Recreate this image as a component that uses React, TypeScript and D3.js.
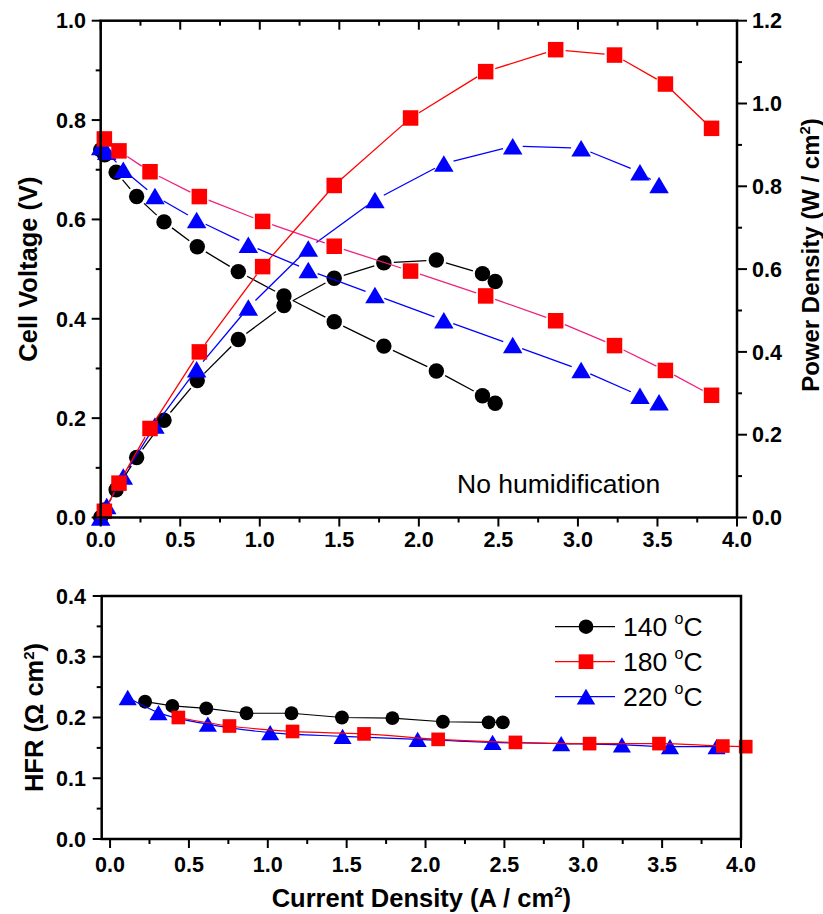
import React from "react";
import * as d3 from "d3";

// ---------- data ----------
const x140 = [0, 0.025, 0.097, 0.226, 0.398, 0.607, 0.865, 1.152, 1.468, 1.78, 2.11, 2.40, 2.48];
const v140 = [0.74, 0.73, 0.695, 0.646, 0.595, 0.545, 0.495, 0.446, 0.394, 0.345, 0.295, 0.245, 0.23];
const p140 = [0, 0.018, 0.067, 0.145, 0.235, 0.331, 0.43, 0.512, 0.578, 0.615, 0.622, 0.589, 0.57];

const x180 = [0.023, 0.115, 0.31, 0.62, 1.018, 1.468, 1.948, 2.42, 2.86, 3.23, 3.55, 3.84];
const v180 = [0.762, 0.738, 0.696, 0.646, 0.596, 0.546, 0.496, 0.446, 0.396, 0.346, 0.296, 0.246];
const p180 = [0.015, 0.083, 0.215, 0.40, 0.606, 0.802, 0.965, 1.077, 1.13, 1.117, 1.047, 0.94];

const x220 = [0, 0.038, 0.142, 0.341, 0.603, 0.928, 1.305, 1.724, 2.157, 2.59, 3.02, 3.39, 3.51];
const v220 = [0.746, 0.736, 0.70, 0.647, 0.599, 0.549, 0.498, 0.448, 0.397, 0.347, 0.297, 0.245, 0.232];
const p220 = [0, 0.028, 0.099, 0.222, 0.358, 0.507, 0.650, 0.767, 0.855, 0.897, 0.892, 0.834, 0.803];

const hx140 = [0.222, 0.395, 0.61, 0.865, 1.15, 1.47, 1.79, 2.11, 2.40, 2.49];
const h140 = [0.226, 0.219, 0.215, 0.207, 0.207, 0.200, 0.199, 0.193, 0.192, 0.192];
const hx180 = [0.433, 0.757, 1.157, 1.61, 2.08, 2.57, 3.04, 3.48, 3.885, 4.03];
const h180 = [0.200, 0.186, 0.177, 0.173, 0.164, 0.159, 0.157, 0.157, 0.153, 0.152];
const hx220 = [0.112, 0.307, 0.62, 1.015, 1.474, 1.95, 2.425, 2.86, 3.245, 3.55, 3.845];
const h220 = [0.233, 0.208, 0.189, 0.175, 0.169, 0.164, 0.159, 0.157, 0.155, 0.152, 0.152];

const xTicks = [0, 0.5, 1.0, 1.5, 2.0, 2.5, 3.0, 3.5, 4.0];
const vTicks = [0, 0.2, 0.4, 0.6, 0.8, 1.0];
const pTicks = [0, 0.2, 0.4, 0.6, 0.8, 1.0, 1.2];
const hTicks = [0, 0.1, 0.2, 0.3, 0.4];
const legendLabels = ["140 ", "180 ", "220 "];

// ---------- layout ----------
const W = 823, H = 914;
const FONT = "'Liberation Sans', Arial, sans-serif";

const xTop = d3.scaleLinear().domain([0, 4]).range([100.7, 737]);
const yV = d3.scaleLinear().domain([0, 1]).range([517.5, 20.7]);
const yP = d3.scaleLinear().domain([0, 1.2]).range([517.5, 20.7]);
const xBot = d3.scaleLinear().domain([-0.053, 4.0]).range([101.7, 741]);
const yH = d3.scaleLinear().domain([0, 0.4]).range([839, 596]);

const fmt = d3.format(".1f");

type Shape = "circle" | "square" | "triangle";

function Marker({ shape, cx, cy, color, s = 1 }: { shape: Shape; cx: number; cy: number; color: string; s?: number }) {
  if (shape === "circle") return <circle cx={cx} cy={cy} r={7.7 * s} fill={color} />;
  if (shape === "square") {
    const a = 15.5 * s;
    return <rect x={cx - a / 2} y={cy - a / 2} width={a} height={a} fill={color} />;
  }
  const w = 19.5 * s, h = 16.5 * s;
  const pts = `${cx},${cy - h / 2} ${cx + w / 2},${cy + h / 2} ${cx - w / 2},${cy + h / 2}`;
  return <polygon points={pts} fill={color} />;
}

function GapLine({ xs, ys, sx, sy, color, gap }: { xs: number[]; ys: number[]; sx: any; sy: any; color: string; gap: number }) {
  const segs: JSX.Element[] = [];
  for (let i = 0; i < xs.length - 1; i++) {
    const x1 = sx(xs[i]), y1 = sy(ys[i]), x2 = sx(xs[i + 1]), y2 = sy(ys[i + 1]);
    const dx = x2 - x1, dy = y2 - y1;
    const L = Math.hypot(dx, dy);
    if (L <= 2 * gap + 1) continue;
    const ux = dx / L, uy = dy / L;
    segs.push(
      <line key={i} x1={x1 + ux * gap} y1={y1 + uy * gap} x2={x2 - ux * gap} y2={y2 - uy * gap} stroke={color} strokeWidth={1.3} />
    );
  }
  return <g>{segs}</g>;
}

function Series({ xs, ys, sx, sy, color, lineColor, shape, gap = 10 }: any) {
  return (
    <g>
      <GapLine xs={xs} ys={ys} sx={sx} sy={sy} color={lineColor || color} gap={gap} />
      {xs.map((x: number, i: number) => (
        <Marker key={i} shape={shape} cx={sx(x)} cy={sy(ys[i])} color={color} />
      ))}
    </g>
  );
}

function SmoothSeries({ xs, ys, color, shape, curve, s }: any) {
  const pts = xs.map((x: number, i: number) => [xBot(x), yH(ys[i])] as [number, number]);
  const path = d3.line().curve(curve)(pts) || "";
  return (
    <g>
      <path d={path} fill="none" stroke={color} strokeWidth={1.2} />
      {pts.map((p: [number, number], i: number) => (
        <Marker key={i} shape={shape} cx={p[0]} cy={p[1]} color={color} s={s} />
      ))}
    </g>
  );
}

function minorBetween(ticks: number[]) {
  const out: number[] = [];
  for (let i = 0; i < ticks.length - 1; i++) out.push((ticks[i] + ticks[i + 1]) / 2);
  return out;
}

export default function App() {
  const axisW = 2.5;
  const tickFont = { fontFamily: FONT, fontWeight: 700, fontSize: 21.5, fill: "#000" } as any;
  const titleFont = { fontFamily: FONT, fontWeight: 700, fill: "#000" } as any;

  const [tl, tr] = xTop.range();
  const [tb, tt] = yV.range();
  const [bl, br] = xBot.range();
  const [bb, bt] = yH.range();

  return (
    <svg width={W} height={H} style={{ position: "absolute", left: 0, top: 0, background: "#fff" }}>
      <rect x={0} y={0} width={W} height={H} fill="#fff" />

      {/* ===== TOP PLOT ===== */}
      <Series xs={x140} ys={v140} sx={xTop} sy={yV} color="#000" shape="circle" />
      <Series xs={x140} ys={p140} sx={xTop} sy={yP} color="#000" shape="circle" />
      <Series xs={x220} ys={v220} sx={xTop} sy={yV} color="#0000ff" shape="triangle" />
      <Series xs={x220} ys={p220} sx={xTop} sy={yP} color="#0000ff" shape="triangle" />
      <Series xs={x180} ys={v180} sx={xTop} sy={yV} color="#ff0000" lineColor="#f0207f" shape="square" />
      <Series xs={x180} ys={p180} sx={xTop} sy={yP} color="#ff0000" shape="square" />

      <rect x={tl} y={tt} width={tr - tl} height={tb - tt} fill="none" stroke="#000" strokeWidth={axisW} />

      {xTicks.map((t) => (
        <g key={"xt" + t}>
          <line x1={xTop(t)} x2={xTop(t)} y1={tb} y2={tb + 9} stroke="#000" strokeWidth={2} />
          <line x1={xTop(t)} x2={xTop(t)} y1={tt} y2={tt + 9} stroke="#000" strokeWidth={2} />
          <text x={xTop(t)} y={547} textAnchor="middle" style={tickFont}>{fmt(t)}</text>
        </g>
      ))}
      {minorBetween(xTicks).map((t) => (
        <g key={"xm" + t}>
          <line x1={xTop(t)} x2={xTop(t)} y1={tb} y2={tb + 5} stroke="#000" strokeWidth={2} />
          <line x1={xTop(t)} x2={xTop(t)} y1={tt} y2={tt + 5} stroke="#000" strokeWidth={2} />
        </g>
      ))}
      {vTicks.map((t) => (
        <g key={"yv" + t}>
          <line x1={tl - 9} x2={tl} y1={yV(t)} y2={yV(t)} stroke="#000" strokeWidth={2} />
          <text x={86} y={yV(t)} dy="0.36em" textAnchor="end" style={tickFont}>{fmt(t)}</text>
        </g>
      ))}
      {minorBetween(vTicks).map((t) => (
        <line key={"yvm" + t} x1={tl - 5} x2={tl} y1={yV(t)} y2={yV(t)} stroke="#000" strokeWidth={2} />
      ))}
      {pTicks.map((t) => (
        <g key={"yp" + t}>
          <line x1={tr} x2={tr + 10} y1={yP(t)} y2={yP(t)} stroke="#000" strokeWidth={2} />
          <text x={752} y={yP(t)} dy="0.36em" textAnchor="start" style={tickFont}>{fmt(t)}</text>
        </g>
      ))}
      {minorBetween(pTicks).map((t) => (
        <line key={"ypm" + t} x1={tr} x2={tr + 5} y1={yP(t)} y2={yP(t)} stroke="#000" strokeWidth={2} />
      ))}

      <text transform={`translate(37, ${(tb + tt) / 2}) rotate(-90)`} textAnchor="middle" style={{ ...titleFont, fontSize: 25.5 }}>
        Cell Voltage (V)
      </text>
      <text transform={`translate(819, 255) rotate(-90)`} textAnchor="middle" style={{ ...titleFont, fontSize: 24 }}>
        Power Density (W / cm<tspan dy={-9} fontSize={15}>2</tspan><tspan dy={9}>)</tspan>
      </text>
      <text x={457} y={493} style={{ fontFamily: FONT, fontSize: 26.5, fill: "#000" }}>No humidification</text>

      {/* ===== BOTTOM PLOT ===== */}
      <SmoothSeries xs={hx140} ys={h140} color="#000" shape="circle" curve={d3.curveLinear} s={0.9} />
      <SmoothSeries xs={hx220} ys={h220} color="#0000ff" shape="triangle" curve={d3.curveMonotoneX} s={0.93} />
      <SmoothSeries xs={hx180} ys={h180} color="#ff0000" shape="square" curve={d3.curveMonotoneX} s={0.88} />

      <rect x={bl} y={bt} width={br - bl} height={bb - bt} fill="none" stroke="#000" strokeWidth={axisW} />
      {xTicks.map((t) => (
        <g key={"bx" + t}>
          <line x1={xBot(t)} x2={xBot(t)} y1={bb} y2={bb + 9} stroke="#000" strokeWidth={2} />
          <text x={xBot(t)} y={872} textAnchor="middle" style={tickFont}>{fmt(t)}</text>
        </g>
      ))}
      {minorBetween(xTicks).map((t) => (
        <line key={"bxm" + t} x1={xBot(t)} x2={xBot(t)} y1={bb} y2={bb + 5} stroke="#000" strokeWidth={2} />
      ))}
      {hTicks.map((t) => (
        <g key={"by" + t}>
          <line x1={bl - 9} x2={bl} y1={yH(t)} y2={yH(t)} stroke="#000" strokeWidth={2} />
          <text x={86} y={yH(t)} dy="0.36em" textAnchor="end" style={tickFont}>{fmt(t)}</text>
        </g>
      ))}
      {minorBetween(hTicks).map((t) => (
        <line key={"bym" + t} x1={bl - 5} x2={bl} y1={yH(t)} y2={yH(t)} stroke="#000" strokeWidth={2} />
      ))}

      <text transform={`translate(43, ${(bb + bt) / 2}) rotate(-90)`} textAnchor="middle" style={{ ...titleFont, fontSize: 25.5 }}>
        HFR (Ω cm<tspan dy={-9} fontSize={15}>2</tspan><tspan dy={9}>)</tspan>
      </text>
      <text x={(bl + br) / 2} y={907} textAnchor="middle" style={{ ...titleFont, fontSize: 25.5 }}>
        Current Density (A / cm<tspan dy={-10} fontSize={15}>2</tspan><tspan dy={10}>)</tspan>
      </text>

      {([["#000", "circle"], ["#ff0000", "square"], ["#0000ff", "triangle"]] as [string, Shape][]).map(([c, sh], i) => {
        const y = 626.7 + i * 35;
        return (
          <g key={"lg" + i}>
            <line x1={555} x2={615} y1={y} y2={y} stroke={c} strokeWidth={1.2} />
            <Marker shape={sh} cx={586} cy={y} color={c} s={0.95} />
            <text x={623} y={y + 9.5} style={{ fontFamily: FONT, fontSize: 26.5, fill: "#000" }}>
              {legendLabels[i]}
              <tspan dy={-12} fontSize={16}>o</tspan>
              <tspan dy={12}>C</tspan>
            </text>
          </g>
        );
      })}
    </svg>
  );
}
